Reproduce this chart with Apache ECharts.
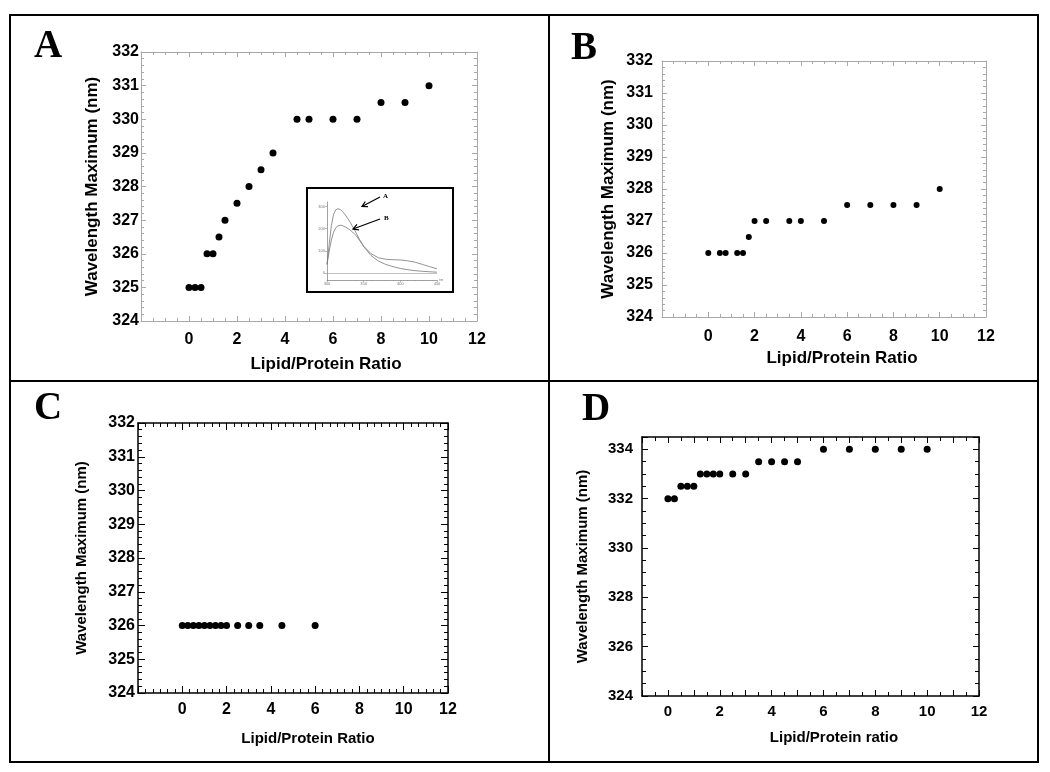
<!DOCTYPE html>
<html><head><meta charset="utf-8">
<script src="https://cdn.jsdelivr.net/npm/echarts@6/dist/echarts.min.js"></script>
<style>html,body{margin:0;padding:0;background:#fff}#c{width:1050px;height:772px}</style>
</head><body><div id="c"></div>
<script>
// ---- data ----
const xTickLabels = [0, 2, 4, 6, 8, 10, 12];
const yTickLabelsABC = [324, 325, 326, 327, 328, 329, 330, 331, 332];
const yTickLabelsD = [324, 326, 328, 330, 332, 334];

const aX = [0, 0.25, 0.5, 0.75, 1, 1.25, 1.5, 2, 2.5, 3, 3.5, 4.5, 5, 6, 7, 8, 9, 10];
const aY = [325, 325, 325, 326, 326, 326.5, 327, 327.5, 328, 328.5, 329, 330, 330, 330, 330, 330.5, 330.5, 331];

const bX = [0, 0.5, 0.75, 1.25, 1.5, 1.75, 2, 2.5, 3.5, 4, 5, 6, 7, 8, 9, 10];
const bY = [326, 326, 326, 326, 326, 326.5, 327, 327, 327, 327, 327, 327.5, 327.5, 327.5, 327.5, 328];

const cX = [0, 0.25, 0.5, 0.75, 1, 1.25, 1.5, 1.75, 2, 2.5, 3, 3.5, 4.5, 6];
const cY = [326, 326, 326, 326, 326, 326, 326, 326, 326, 326, 326, 326, 326, 326];

const dX = [0, 0.25, 0.5, 0.75, 1, 1.25, 1.5, 1.75, 2, 2.5, 3, 3.5, 4, 4.5, 5, 6, 7, 8, 9, 10];
const dY = [332, 332, 332.5, 332.5, 332.5, 333, 333, 333, 333, 333, 333, 333.5, 333.5, 333.5, 333.5, 334, 334, 334, 334, 334];

// inset emission spectra (wavelength nm, intensity)
const insetNm = [300, 303, 306, 309, 312, 315, 318, 321, 325, 330, 335, 340, 345, 350, 360, 370, 380, 390, 400, 410, 420, 430, 440, 450];
const insetA  = [40, 130, 215, 265, 285, 290, 286, 278, 262, 238, 210, 180, 148, 120, 80, 55, 40, 30, 22, 16, 12, 9, 7, 5];
const insetB  = [40, 100, 150, 185, 205, 213, 216, 214, 208, 198, 185, 168, 145, 122, 88, 70, 63, 61, 60, 56, 50, 40, 30, 20];
const insetXLabels = [300, 350, 400, 450];
const insetYLabels = [0, 100, 200, 300];

// ---- helpers ----
const FONT = 'Liberation Sans';
const zip = (xs, ys) => xs.map((x, i) => [x, ys[i]]);

const panels = [
  {grid:{left:141, top:52, width:336, height:269}, frame:'#a8a8a8', fw:1,
   xmin:-2, xmax:12, xint:2, xsplit:4, ymin:324, ymax:332, yint:1, ysplit:5, ylabels:yTickLabelsABC,
   lsize:16, nsize:17, xName:'Lipid/Protein Ratio', yName:'Wavelength Maximum (nm)',
   xGap:35, yGap:40, xPad:34, xMargin:11, yMargin:2, maj:5, min:3, sym:7, data:zip(aX, aY)},
  {grid:{left:662, top:61, width:324, height:256}, frame:'#a8a8a8', fw:1,
   xmin:-2, xmax:12, xint:2, xsplit:4, ymin:324, ymax:332, yint:1, ysplit:5, ylabels:yTickLabelsABC,
   lsize:16, nsize:17, xName:'Lipid/Protein Ratio', yName:'Wavelength Maximum (nm)',
   xGap:33, yGap:45, xPad:36, xMargin:12, yMargin:9, maj:5, min:3, sym:6, data:zip(bX, bY)},
  {grid:{left:138, top:423, width:310, height:270}, frame:'#000', fw:1.5,
   xmin:-2, xmax:12, xint:2, xsplit:6, ymin:324, ymax:332, yint:1, ysplit:5, ylabels:yTickLabelsABC,
   lsize:16, nsize:15, xName:'Lipid/Protein Ratio', yName:'Wavelength Maximum (nm)',
   xGap:38, yGap:49, xPad:30, xMargin:9, yMargin:3, maj:7, min:4, sym:7, data:zip(cX, cY)},
  {grid:{left:642, top:437, width:337, height:259}, frame:'#000', fw:1.5,
   xmin:-1, xmax:12, xint:1, xsplit:2, ymin:324, ymax:334.5, yint:2, ysplit:4, ylabels:yTickLabelsD,
   lsize:15, nsize:15, xName:'Lipid/Protein ratio', yName:'Wavelength Maximum (nm)',
   xGap:34, yGap:52, xPad:47, xMargin:8, yMargin:9, maj:6, min:4, sym:7, data:zip(dX, dY)}
];

const grids = [], xAxes = [], yAxes = [], series = [];
panels.forEach((p, gi) => {
  grids.push(Object.assign({containLabel:false}, p.grid));
  const line = {show:true, onZero:false, lineStyle:{color:p.frame, width:p.fw}};
  const tick = {show:true, inside:true, length:p.maj, lineStyle:{color:p.frame, width:1}};
  const mtx = {show:true, splitNumber:p.xsplit, length:p.min, lineStyle:{color:p.frame, width:1}};
  const mty = {show:true, splitNumber:p.ysplit, length:p.min, lineStyle:{color:p.frame, width:1}};
  const lbl = {color:'#000', fontWeight:'bold', fontFamily:FONT, fontSize:p.lsize};
  const nameStyle = {color:'#000', fontWeight:'bold', fontFamily:FONT, fontSize:p.nsize};
  const xb = xAxes.length;
  xAxes.push({type:'value', gridIndex:gi, position:'bottom', min:p.xmin, max:p.xmax, interval:p.xint,
    axisLine:line, axisTick:tick, minorTick:mtx, splitLine:{show:false},
    axisLabel:Object.assign({margin:p.xMargin, formatter:v => xTickLabels.includes(v) ? String(v) : ''}, lbl),
    name:p.xName, nameLocation:'middle', nameGap:p.xGap,
    nameTextStyle:Object.assign({padding:[0,0,0,p.xPad]}, nameStyle)});
  xAxes.push({type:'value', gridIndex:gi, position:'top', min:p.xmin, max:p.xmax, interval:p.xint,
    axisLine:line, axisTick:tick, minorTick:mtx, splitLine:{show:false}, axisLabel:{show:false}});
  const yl = yAxes.length;
  yAxes.push({type:'value', gridIndex:gi, position:'left', min:p.ymin, max:p.ymax, interval:p.yint,
    axisLine:line, axisTick:tick, minorTick:mty, splitLine:{show:false},
    axisLabel:Object.assign({margin:p.yMargin, formatter:v => p.ylabels.includes(v) ? String(v) : ''}, lbl),
    name:p.yName, nameLocation:'middle', nameGap:p.yGap, nameTextStyle:nameStyle});
  yAxes.push({type:'value', gridIndex:gi, position:'right', min:p.ymin, max:p.ymax, interval:p.yint,
    axisLine:line, axisTick:tick, minorTick:mty, splitLine:{show:false}, axisLabel:{show:false}});
  series.push({type:'scatter', xAxisIndex:xb, yAxisIndex:yl, data:p.data, symbol:'circle',
    symbolSize:p.sym, itemStyle:{color:'#000', opacity:1}, silent:true});
});

// inset grid
const ig = grids.length;
grids.push({left:327, top:202, width:110, height:78});
const gray = '#8a8a8a';
const ixi = xAxes.length;
xAxes.push({type:'value', gridIndex:ig, min:300, max:450, interval:50,
  axisLine:{show:true, onZero:false, lineStyle:{color:gray, width:0.8}},
  axisTick:{show:true, length:2, lineStyle:{color:gray, width:0.6}},
  minorTick:{show:true, splitNumber:5, length:1, lineStyle:{color:gray, width:0.5}},
  splitLine:{show:false},
  axisLabel:{fontSize:4, color:'#777', margin:2, fontFamily:FONT},
  name:'nm', nameLocation:'end', nameGap:2, nameTextStyle:{fontSize:3, color:'#777'}});
const iyi = yAxes.length;
yAxes.push({type:'value', gridIndex:ig, min:-30, max:320,
  axisLine:{show:true, onZero:false, lineStyle:{color:gray, width:0.8}},
  axisTick:{show:true, length:2, customValues:insetYLabels, lineStyle:{color:gray, width:0.6}},
  splitLine:{show:false},
  axisLabel:{fontSize:4, color:'#777', margin:2, fontFamily:FONT, customValues:insetYLabels}});
series.push({type:'line', xAxisIndex:ixi, yAxisIndex:iyi, data:zip(insetNm, insetA), showSymbol:false,
  lineStyle:{color:'#777', width:0.8}, silent:true,
  markLine:{silent:true, symbol:['none','none'], label:{show:false},
    lineStyle:{color:'#999', width:0.6, type:'solid'}, data:[{yAxis:0}]}});
series.push({type:'line', xAxisIndex:ixi, yAxisIndex:iyi, data:zip(insetNm, insetB), showSymbol:false,
  lineStyle:{color:'#777', width:0.8}, silent:true});

// annotation arrows (inset)
function arrow(x1, y1, x2, y2) {
  const dx = x1 - x2, dy = y1 - y2, L = Math.hypot(dx, dy), ux = dx / L, uy = dy / L, h = 6;
  const r = a => [x2 + h * (ux * Math.cos(a) - uy * Math.sin(a)), y2 + h * (ux * Math.sin(a) + uy * Math.cos(a))];
  return [
    {type:'line', shape:{x1, y1, x2, y2}, style:{stroke:'#000', lineWidth:1.2}, z:10},
    {type:'polyline', shape:{points:[r(0.5), [x2, y2], r(-0.5)]}, style:{stroke:'#000', lineWidth:1.2, fill:null}, z:10}
  ];
}
const letter = (t, x, y) => ({type:'text', x, y, z:10,
  style:{text:t, font:'bold 39px "Liberation Serif"', fill:'#000', verticalAlign:'top'}});

const graphic = [
  {type:'rect', shape:{x:10, y:15, width:1028, height:747}, style:{stroke:'#000', lineWidth:2, fill:null}, z:10},
  {type:'line', shape:{x1:549, y1:15, x2:549, y2:762}, style:{stroke:'#000', lineWidth:2}, z:10},
  {type:'line', shape:{x1:10, y1:381, x2:1038, y2:381}, style:{stroke:'#000', lineWidth:2}, z:10},
  letter('A', 34, 27), letter('B', 571, 29), letter('C', 34, 389), letter('D', 582, 390),
  {type:'rect', shape:{x:307, y:188, width:146, height:104}, style:{stroke:'#000', lineWidth:2, fill:null}, z:10},
  ...arrow(380, 197, 362, 206.5),
  ...arrow(380, 219, 353, 229),
  {type:'text', x:383, y:193, z:10, style:{text:'A', font:'bold 7px "Liberation Serif"', fill:'#000'}},
  {type:'text', x:384, y:215, z:10, style:{text:'B', font:'bold 7px "Liberation Serif"', fill:'#000'}}
];

const chart = echarts.init(document.getElementById('c'), null, {renderer:'canvas'});
chart.setOption({animation:false, backgroundColor:'#fff', grid:grids, xAxis:xAxes, yAxis:yAxes, series, graphic});
</script></body></html>
